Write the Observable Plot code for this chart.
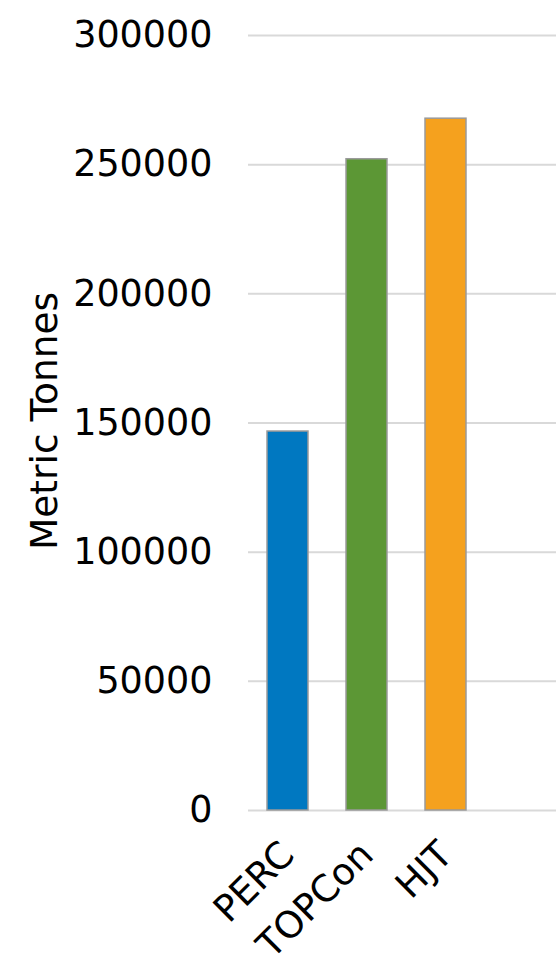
<!DOCTYPE html>
<html>
<head>
<meta charset="utf-8">
<script src="https://cdn.jsdelivr.net/npm/d3@7"></script>
<script src="https://cdn.jsdelivr.net/npm/@observablehq/plot@0.6"></script>
<style>
  html, body { margin: 0; padding: 0; background: #fff; }
  #chart svg { display: block; }
</style>
</head>
<body>
<div id="chart"></div>
<script>
const categories = ["PERC", "TOPCon", "HJT"];
const values = [146700, 252100, 267800];
const colors = ["#0078C1", "#5C9735", "#F5A11E"];
const yTicks = [0, 50000, 100000, 150000, 200000, 250000, 300000];
const yLabel = "Metric Tonnes";

const data = categories.map((c, i) => ({cat: c, value: values[i], color: colors[i]}));

const chart = Plot.plot({
  width: 556,
  height: 966,
  marginLeft: 248,
  marginRight: 0,
  marginTop: 35,
  marginBottom: 156,
  style: {fontFamily: "'DejaVu Sans', Verdana, sans-serif", fontSize: "36px", color: "#000", background: "#fff"},
  x: {domain: categories, range: [248, 485], paddingInner: 0.48, paddingOuter: 0.24, label: null},
  y: {domain: [0, 300000], label: null},
  marks: [
    Plot.ruleY(yTicks, {stroke: "#d9d9d9", strokeWidth: 2}),
    Plot.barY(data, {x: "cat", y: "value", fill: "color", stroke: "#9a9a9a", strokeWidth: 1.5}),
    Plot.axisY({ticks: yTicks, tickSize: 0, tickPadding: 36, tickFormat: d => String(d), label: null, fontSize: 36.5}),
    Plot.axisX({tickSize: 0, tickRotate: -45, tickPadding: 38, label: null, fontSize: 37}),
    Plot.text([yLabel], {frameAnchor: "left", textAnchor: "middle", dx: -204, dy: -2, rotate: -90, fontSize: 37.5, fill: "#000"})
  ]
});
document.getElementById("chart").appendChild(chart);
</script>
</body>
</html>
